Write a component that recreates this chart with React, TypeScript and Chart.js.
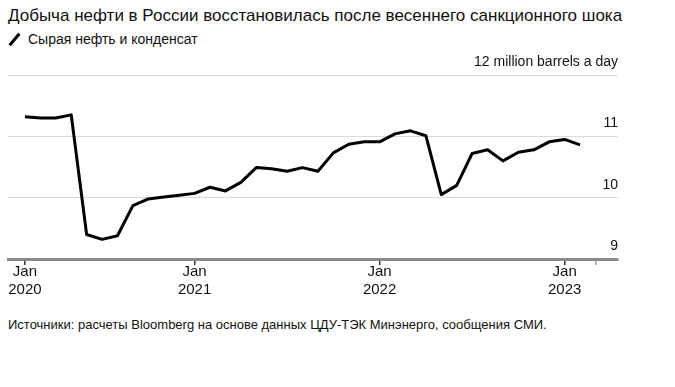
import React, { useEffect, useRef } from "react";
import { Chart, registerables } from "chart.js";

Chart.register(...registerables);

const title = "Добыча нефти в России восстановилась после весеннего санкционного шока";
const seriesName = "Сырая нефть и конденсат";
const unitLabel = "12 million barrels a day";
const source = "Источники: расчеты Bloomberg на основе данных ЦДУ-ТЭК Минэнерго, сообщения СМИ.";

// monthly observations (million barrels a day), first point = Jan 2020
const output = [
  11.32, 11.3, 11.3, 11.35, 9.4, 9.32, 9.38, 9.87, 9.98, 10.01, 10.04,
  10.07, 10.17, 10.11, 10.25, 10.49, 10.47, 10.43, 10.49, 10.43, 10.73, 10.87, 10.91,
  10.91, 11.04, 11.09, 11.01, 10.05, 10.2, 10.72, 10.78, 10.6, 10.74, 10.78, 10.91,
  10.95, 10.86,
];

// x-axis ticks: observation index and label
const tickIndex = [0, 11, 23, 35, 37];
const tickLabels = [["Jan", "2020"], ["Jan", "2021"], ["Jan", "2022"], ["Jan", "2023"], ""];

const yTicks = [9, 10, 11, 12];

const FONT = "'Liberation Sans', Arial, Helvetica, sans-serif";

export default function App() {
  const ref = useRef<HTMLCanvasElement>(null);

  useEffect(() => {
    if (!ref.current) return;
    const chart = new Chart(ref.current, {
      type: "line",
      data: {
        datasets: [
          {
            label: seriesName,
            data: output.map((v, i) => ({ x: i, y: v })),
            borderColor: "#000000",
            borderWidth: 3,
            pointRadius: 0,
            tension: 0,
            borderJoinStyle: "round",
            borderCapStyle: "butt",
          },
        ],
      },
      options: {
        animation: false,
        responsive: false,
        maintainAspectRatio: false,
        layout: { padding: { left: 8, right: 57, top: 25, bottom: 6 } },
        plugins: { legend: { display: false }, tooltip: { enabled: false } },
        scales: {
          x: {
            type: "linear",
            min: -1.1,
            max: 38.46,
            afterBuildTicks: (s: any) => {
              s.ticks = tickIndex.map((v) => ({ value: v }));
            },
            afterFit: (s: any) => {
              s.height = 40;
            },
            grid: {
              display: true,
              drawOnChartArea: false,
              drawTicks: true,
              tickLength: 6,
              lineWidth: 1.5,
              color: (ctx: any) => (ctx.index === tickIndex.length - 1 ? "#9a9a9a" : "#333333"),
            },
            border: { display: true, color: "#8a8a8a", width: 3 },
            ticks: {
              autoSkip: false,
              maxRotation: 0,
              padding: -2,
              color: "#111111",
              font: { family: FONT, size: 15, lineHeight: 1.2 },
              callback: (v: any) => {
                const k = tickIndex.indexOf(Number(v));
                return k >= 0 ? tickLabels[k] : "";
              },
            },
          },
          y: {
            type: "linear",
            position: "right",
            min: 9,
            max: 12,
            afterBuildTicks: (s: any) => {
              s.ticks = yTicks.map((v) => ({ value: v }));
            },
            afterFit: (s: any) => {
              s.width = 0;
            },
            grid: { color: "#dadada", lineWidth: 1, drawTicks: false },
            border: { display: false },
            ticks: {
              mirror: true,
              padding: 0,
              labelOffset: -13,
              color: "#111111",
              font: { family: FONT, size: 14 },
              callback: (v: any) => (Number(v) === 12 ? unitLabel : String(v)),
            },
          },
        },
      },
    });
    return () => chart.destroy();
  }, []);

  return (
    <div
      style={{
        position: "absolute",
        left: 0,
        top: 0,
        width: 675,
        height: 387,
        background: "#ffffff",
        fontFamily: FONT,
        color: "#111111",
        overflow: "hidden",
      }}
    >
      <div style={{ position: "absolute", left: 8, top: 6, fontSize: 17, whiteSpace: "nowrap", lineHeight: "20px" }}>
        {title}
      </div>
      <div style={{ position: "absolute", left: 8, top: 30, height: 18, display: "flex", alignItems: "center" }}>
        <div
          style={{
            width: 15,
            height: 3,
            background: "#000",
            transform: "rotate(-50deg)",
            marginLeft: -1,
            marginRight: 6,
          }}
        />
        <span style={{ fontSize: 14, whiteSpace: "nowrap", lineHeight: "18px" }}>{seriesName}</span>
      </div>
      <canvas
        ref={ref}
        width={675}
        height={255}
        style={{ position: "absolute", left: 0, top: 50, width: 675, height: 255 }}
      />
      <div style={{ position: "absolute", left: 8, top: 317, fontSize: 13, whiteSpace: "nowrap", lineHeight: "16px" }}>
        {source}
      </div>
    </div>
  );
}
